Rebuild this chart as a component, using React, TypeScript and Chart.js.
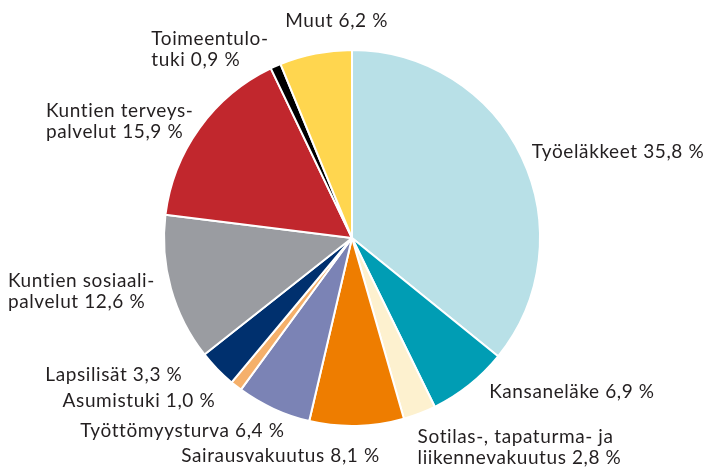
import React, { useEffect, useRef } from "react";
import { Chart, registerables } from "chart.js";

Chart.register(...registerables);

const categories = [
  "Työeläkkeet",
  "Kansaneläke",
  "Sotilas-, tapaturma- ja\nliikennevakuutus",
  "Sairausvakuutus",
  "Työttömyysturva",
  "Asumistuki",
  "Lapsilisät",
  "Kuntien sosiaali-\npalvelut",
  "Kuntien terveys-\npalvelut",
  "Toimeentulo-\ntuki",
  "Muut",
];
const values = [35.8, 6.9, 2.8, 8.1, 6.4, 1.0, 3.3, 12.6, 15.9, 0.9, 6.2];
const colors = [
  "#b8e0e7",
  "#009db4",
  "#fdf1cf",
  "#ee7d00",
  "#7b83b5",
  "#f5b06b",
  "#00306e",
  "#9a9ca1",
  "#c1272d",
  "#000000",
  "#ffd64f",
];

// label layout (offset from the outer midpoint of each arc)
const labelAlign = ["left", "left", "left", "right", "right", "right", "right", "right", "right", "right", "center"];
const labelDx = [10, 20, -2, 23, 11, -21, -35, -16, -6, -7, 21];
const labelDy = [-5, 7, 34, 30, 22, 15, 6, 3, -7, -17, -33];

const FONT = '19px "Lato"';
const LETTER_SPACING = "0.6px";
const LINE_H = 21;

function formatValue(v: number) {
  return v.toFixed(1).replace(".", ",") + " %";
}

const labelPlugin = {
  id: "outerLabels",
  afterDatasetsDraw(chart: any) {
    const ctx = chart.ctx as any;
    const meta = chart.getDatasetMeta(0);
    ctx.save();
    ctx.font = FONT;
    ctx.letterSpacing = LETTER_SPACING;
    ctx.fillStyle = "#231f20";
    ctx.textBaseline = "middle";
    meta.data.forEach((arc: any, i: number) => {
      const { x, y, startAngle, endAngle, outerRadius } = arc.getProps(
        ["x", "y", "startAngle", "endAngle", "outerRadius"],
        true
      );
      const mid = (startAngle + endAngle) / 2;
      const ax = x + Math.cos(mid) * outerRadius + labelDx[i];
      const ay = y + Math.sin(mid) * outerRadius + labelDy[i];
      const lines = categories[i].split("\n");
      lines[lines.length - 1] += " " + formatValue(values[i]);
      const widths = lines.map((l) => ctx.measureText(l).width);
      const blockW = Math.max(...widths);
      let left = ax;
      if (labelAlign[i] === "right") left = ax - blockW;
      if (labelAlign[i] === "center") left = ax - blockW / 2;
      const y0 = ay - ((lines.length - 1) * LINE_H) / 2;
      lines.forEach((l, j) => {
        ctx.textAlign = "left";
        const lx = labelAlign[i] === "center" ? ax - widths[j] / 2 : left;
        ctx.fillText(l, lx, y0 + j * LINE_H);
      });
    });
    ctx.restore();
  },
};

export default function App() {
  const ref = useRef<HTMLCanvasElement | null>(null);
  useEffect(() => {
    if (!ref.current) return;
    const chart = new Chart(ref.current, {
      type: "pie",
      data: {
        labels: categories.map((c) => c.replace("\n", " ")),
        datasets: [
          {
            data: values,
            backgroundColor: colors,
            borderColor: "#ffffff",
            borderWidth: 2,
          },
        ],
      },
      options: {
        animation: false,
        responsive: false,
        layout: { padding: { top: 49, bottom: 40, left: 0, right: 3 } },
        plugins: {
          legend: { display: false },
          tooltip: { enabled: false },
        },
      },
      plugins: [labelPlugin],
    });
    return () => chart.destroy();
  }, []);
  return (
    <div style={{ position: "fixed", left: 0, top: 0, width: 707, height: 467, background: "#fff" }}>
      <canvas ref={ref} width={707} height={467} style={{ width: 707, height: 467 }} />
    </div>
  );
}
